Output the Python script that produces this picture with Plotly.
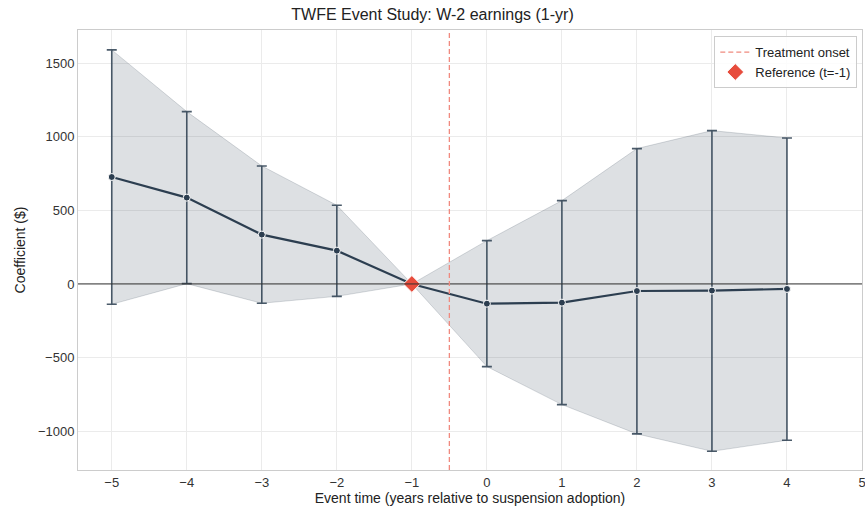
import plotly.graph_objects as go

event_time = [-5, -4, -3, -2, -1, 0, 1, 2, 3, 4]
coef = [726, 586, 335, 226, 0, -134, -127, -48, -45, -34]
ci_upper = [1589, 1170, 801, 534, 0, 294, 566, 919, 1041, 991]
ci_lower = [-138, 2, -131, -84, 0, -561, -819, -1018, -1136, -1061]
ref_time = [-1]
ref_coef = [0]
onset = -0.5
x_ticks = [-5, -4, -3, -2, -1, 0, 1, 2, 3, 4, 5]
y_ticks = [-1000, -500, 0, 500, 1000, 1500]

LINE = "#2c3e50"
RED = "#e74c3c"
ONSET = "#f08a7f"
FONT = "Liberation Sans, Arial, sans-serif"

err_plus = [u - c for u, c in zip(ci_upper, coef)]
err_minus = [c - l for c, l in zip(coef, ci_lower)]

fig = go.Figure()

# CI band
fig.add_trace(go.Scatter(x=event_time, y=ci_upper, mode="lines",
                         line=dict(color="rgba(44,62,80,0.18)", width=1),
                         showlegend=False, hoverinfo="skip"))
fig.add_trace(go.Scatter(x=event_time, y=ci_lower, mode="lines",
                         line=dict(color="rgba(44,62,80,0.18)", width=1),
                         fill="tonexty", fillcolor="rgba(44,62,80,0.16)",
                         showlegend=False, hoverinfo="skip"))

# zero line
fig.add_hline(y=0, line=dict(color="#333333", width=1))

# treatment onset
fig.add_vline(x=onset, line=dict(color=ONSET, width=1.3, dash="5px,3px"))
fig.add_trace(go.Scatter(x=[None], y=[None], mode="lines", name="Treatment onset",
                         line=dict(color=ONSET, width=1.3, dash="5px,3px")))

# coefficients with error bars
fig.add_trace(go.Scatter(x=event_time, y=coef, mode="lines+markers",
                         line=dict(color=LINE, width=2.2),
                         marker=dict(color=LINE, size=7, line=dict(color="white", width=1)),
                         error_y=dict(type="data", symmetric=False, array=err_plus,
                                      arrayminus=err_minus, color="rgba(44,62,80,0.85)",
                                      thickness=1.6, width=5),
                         showlegend=False))

# reference
fig.add_trace(go.Scatter(x=ref_time, y=ref_coef, mode="markers", name="Reference (t=-1)",
                         marker=dict(symbol="diamond", color=RED, size=13,
                                     line=dict(color="white", width=1))))

fig.update_layout(
    width=865, height=514,
    margin=dict(l=78, r=3, t=30, b=44),
    paper_bgcolor="white", plot_bgcolor="white",
    font=dict(family=FONT, size=13, color="#333333"),
    title=dict(text="TWFE Event Study: W-2 earnings (1-yr)", x=0.5, xanchor="center",
               y=0.972, yanchor="middle", font=dict(size=16, color="#222222")),
    legend=dict(x=0.994, xanchor="right", y=0.986, yanchor="top", traceorder="normal",
                bgcolor="rgba(255,255,255,0.85)", bordercolor="#cccccc", borderwidth=1,
                font=dict(size=13, color="#222222"), tracegroupgap=0),
    xaxis=dict(range=[-5.45, 5.0001], tickvals=x_ticks,
               ticktext=[str(t).replace("-", "\u2212") for t in x_ticks],
               ticklabeloverflow="allow", automargin=False,
               showgrid=True, gridcolor="#ebebeb", gridwidth=1, zeroline=False,
               showline=True, linecolor="#cccccc", linewidth=1, mirror=True,
               ticks="", title=dict(text="Event time (years relative to suspension adoption)",
                                    font=dict(size=14, color="#222222"), standoff=4)),
    yaxis=dict(range=[-1263, 1724], tickvals=y_ticks,
               ticktext=[str(t).replace("-", "\u2212") for t in y_ticks],
               showgrid=True, gridcolor="#ebebeb", gridwidth=1, zeroline=False,
               showline=True, linecolor="#cccccc", linewidth=1, mirror=True,
               ticks="", title=dict(text="Coefficient ($)", font=dict(size=14, color="#222222"),
                                    standoff=8)),
)

fig.write_html("out.html")
